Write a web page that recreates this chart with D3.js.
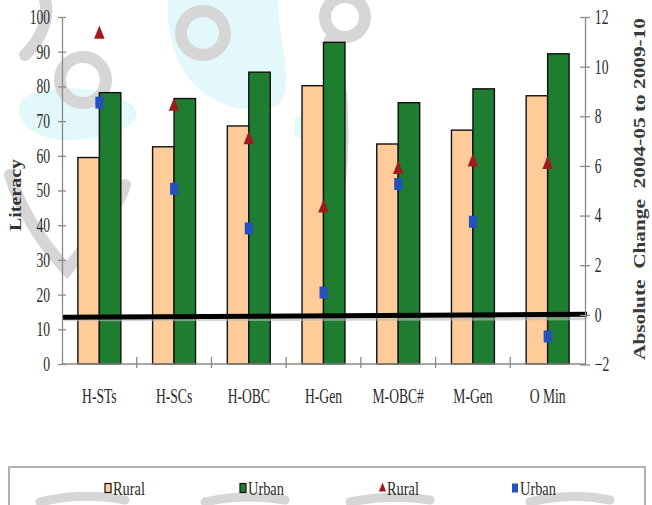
<!DOCTYPE html>
<html><head><meta charset="utf-8">
<script src="https://cdn.jsdelivr.net/npm/d3@7"></script>
<style>body{margin:0;background:#fff;} svg{display:block;}</style>
</head><body>
<svg id="chart" width="652" height="505"></svg>
<script>
// ---- data ----
const categories = ["H-STs", "H-SCs", "H-OBC", "H-Gen", "M-OBC#", "M-Gen", "O Min"];
const literacyRural = [59.5, 62.6, 68.6, 80.2, 63.4, 67.4, 77.3];
const literacyUrban = [78.2, 76.5, 84.1, 92.7, 75.3, 79.3, 89.4];
const changeRural = [11.3, 8.4, 7.05, 4.3, 5.85, 6.15, 6.05];
const changeUrban = [8.55, 5.08, 3.48, 0.9, 5.27, 3.75, -0.87];
const leftTicks = [0, 10, 20, 30, 40, 50, 60, 70, 80, 90, 100];
const rightTicks = [-2, 0, 2, 4, 6, 8, 10, 12];
const legendLabels = ["Rural", "Urban", "Rural", "Urban"];
const leftTitle = "Literacy";
const rightTitle = "Absolute  Change  2004-05 to 2009-10";

// ---- styles ----
const C = {rural: "#FFCC99", urban: "#1F7D31", tri: "#A01C1C", sq: "#2450C0", axis: "#8a8a8a", text: "#2a2a2a"};
const FONT = "'Liberation Serif', 'Times New Roman', serif";
const SX = 0.68;

const svg = d3.select("#chart");

// faint watermark (decorative background)
const wm = svg.append("g");
const CY = "#e3f8fa", GR = "#d6d6d6";
wm.append("path").attr("d", "M168,0 C165,60 195,108 255,110 C305,112 280,60 278,0 Z").attr("fill", CY);
wm.append("path").attr("d", "M22,100 C40,82 115,85 135,108 C145,128 100,142 60,140 C30,137 12,118 22,100 Z").attr("fill", CY);
wm.append("path").attr("d", "M295,118 C310,110 330,115 333,130 C330,142 305,145 295,135 Z").attr("fill", CY);
function stroke(d, w) { wm.append("path").attr("d", d).attr("fill", "none").attr("stroke", GR).attr("stroke-width", w || 12).attr("stroke-linecap", "round"); }
[[83, 80, 23], [203, 33, 22], [345, 17, 20]].forEach(([cx, cy, r]) => {
  wm.append("circle").attr("cx", cx).attr("cy", cy).attr("r", r).attr("fill", "none").attr("stroke", GR).attr("stroke-width", 12);
});
stroke("M45,0 C50,20 40,40 25,55");
stroke("M330,40 C345,80 345,150 338,195");
stroke("M10,175 C22,215 48,250 67,270 C90,240 115,215 125,185");
stroke("M40,502 C70,495 100,495 125,500", 9);
stroke("M205,502 C230,496 260,496 285,500", 9);
stroke("M350,502 C380,496 405,496 430,500", 9);
stroke("M530,502 C560,495 585,495 610,500", 9);

// ---- scales ----
const x = d3.scaleBand().domain(categories).range([62, 585]).paddingInner(0).paddingOuter(0);
const xs = d3.scaleBand().domain(["Rural", "Urban"]).range([0, x.bandwidth()]).paddingInner(0).paddingOuter(0.74);
const yL = d3.scaleLinear().domain([0, 100]).range([364, 17]);
const yR = d3.scaleLinear().domain([-2, 12]).range([364.5, 17]);

// ---- bars ----
const g = svg.append("g");
categories.forEach((c, i) => {
  [["Rural", literacyRural[i], C.rural], ["Urban", literacyUrban[i], C.urban]].forEach(([k, v, col]) => {
    g.append("rect")
      .attr("x", x(c) + xs(k)).attr("width", xs.bandwidth())
      .attr("y", yL(v)).attr("height", yL(0) - yL(v))
      .attr("fill", col).attr("stroke", "#111").attr("stroke-width", 1.4);
  });
});

// ---- zero line of change axis ----
svg.append("line").attr("x1", 64).attr("x2", 587).attr("y1", yR(0) + 5).attr("y2", yR(0) + 4)
  .attr("stroke", "#bbb").attr("stroke-width", 3).attr("opacity", 0.6);
svg.append("line").attr("x1", 62).attr("x2", 587).attr("y1", yR(0) + 2.5).attr("y2", yR(0) - 0.5)
  .attr("stroke", "#000").attr("stroke-width", 5);

// ---- axes ----
function styleAxis(sel) {
  sel.selectAll("path, line").attr("stroke", C.axis).attr("stroke-width", 1.3);
  sel.selectAll("text").attr("font-family", FONT).attr("font-size", 20).attr("fill", C.text);
}
const axL = svg.append("g").attr("transform", "translate(62,0)")
  .call(d3.axisLeft(yL).tickValues(leftTicks).tickSizeInner(4).tickSizeOuter(0).tickPadding(13.5));
axL.selectAll(".tick line").attr("x1", 4);
axL.selectAll(".tick text").attr("transform", `scale(${SX},1)`);
styleAxis(axL);

const axR = svg.append("g").attr("transform", "translate(585,0)")
  .call(d3.axisRight(yR).tickValues(rightTicks).tickSizeInner(5).tickSizeOuter(0).tickPadding(9.5));
axR.selectAll(".tick line").attr("x1", -5);
axR.selectAll(".tick text").attr("transform", `scale(${SX},1)`);
styleAxis(axR);

// bottom axis line + boundary ticks
svg.append("line").attr("x1", 62).attr("x2", 585).attr("y1", yL(0)).attr("y2", yL(0))
  .attr("stroke", C.axis).attr("stroke-width", 1.3);
categories.slice(1).forEach(c => {
  svg.append("line").attr("x1", x(c)).attr("x2", x(c)).attr("y1", yL(0) - 7).attr("y2", yL(0) + 4)
    .attr("stroke", C.axis).attr("stroke-width", 1.3);
});
categories.forEach(c => {
  svg.append("text").attr("transform", `translate(${x(c) + x.bandwidth() / 2},403) scale(${SX},1)`)
    .attr("text-anchor", "middle").attr("font-family", FONT).attr("font-size", 20).attr("fill", C.text).text(c);
});

// ---- markers ----
const tri = d3.symbol().type(d3.symbolTriangle).size(60)();
categories.forEach((c, i) => {
  const cx = x(c) + x.bandwidth() / 2;
  svg.append("path").attr("d", tri)
    .attr("transform", `translate(${cx},${yR(changeRural[i])}) scale(0.9,1.3)`)
    .attr("fill", C.tri);
});
categories.forEach((c, i) => {
  const cx = x(c) + x.bandwidth() / 2;
  svg.append("rect").attr("x", cx - 4).attr("y", yR(changeUrban[i]) - 6).attr("width", 8).attr("height", 12)
    .attr("fill", C.sq);
});

// ---- axis titles ----
svg.append("text").attr("transform", "translate(21,195) rotate(-90)")
  .attr("text-anchor", "middle").attr("font-family", FONT).attr("font-weight", "bold").attr("font-size", 16)
  .attr("fill", "#333").attr("textLength", 72).attr("lengthAdjust", "spacingAndGlyphs").text(leftTitle);
svg.append("text").attr("transform", "translate(645,189) rotate(-90)")
  .attr("text-anchor", "middle").attr("font-family", FONT).attr("font-weight", "bold").attr("font-size", 16)
  .attr("fill", "#3a3a3a").attr("textLength", 342).attr("lengthAdjust", "spacingAndGlyphs")
  .style("white-space", "pre").text(rightTitle);

// ---- legend ----
svg.append("rect").attr("x", 9).attr("y", 467).attr("width", 636).attr("height", 60)
  .attr("fill", "none").attr("stroke", "#999").attr("stroke-width", 1.5);
const lg = svg.append("g");
const legX = [105, 240, 379, 512];
const legY = 488;
lg.append("rect").attr("x", legX[0]).attr("y", legY - 4.5).attr("width", 6).attr("height", 9).attr("fill", C.rural).attr("stroke", "#111").attr("stroke-width", 1.2);
lg.append("rect").attr("x", legX[1]).attr("y", legY - 4.5).attr("width", 6).attr("height", 9).attr("fill", C.urban).attr("stroke", "#111").attr("stroke-width", 1.2);
lg.append("path").attr("d", d3.symbol().type(d3.symbolTriangle).size(28)()).attr("transform", `translate(${legX[2] + 3.5},${legY + 0.5}) scale(0.9,1.3)`).attr("fill", C.tri);
lg.append("rect").attr("x", legX[3]).attr("y", legY - 4.5).attr("width", 6).attr("height", 9).attr("fill", C.sq);
legendLabels.forEach((t, i) => {
  lg.append("text").attr("transform", `translate(${legX[i] + 8},${legY + 6.5}) scale(0.8,1)`)
    .attr("font-family", FONT).attr("font-size", 18).attr("fill", C.text).text(t);
});
</script>
</body></html>
